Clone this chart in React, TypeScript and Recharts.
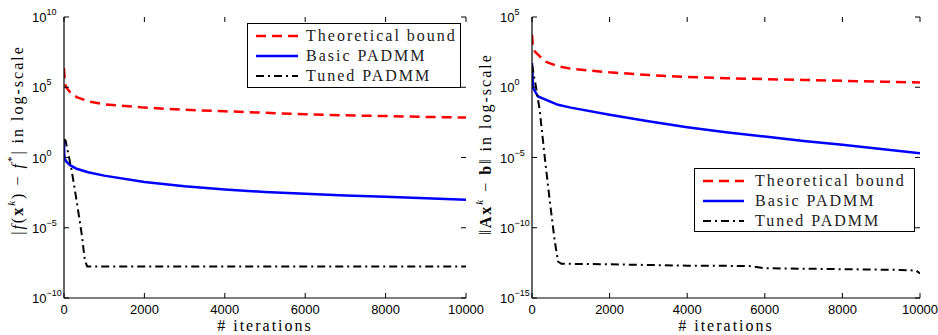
import React from "react";
import { LineChart, Line, XAxis, YAxis, Legend } from "recharts";

const iterTicks = [0, 2000, 4000, 6000, 8000, 10000];

// left panel: |f(x^k) - f*|, values stored as log10
const fBoundK = [0, 20, 50, 150, 315, 600, 1000, 2000, 3000, 4000, 5000, 6000, 7000, 8000, 9000, 10000];
const fBoundExp = [6.35, 5.4, 5.0, 4.66, 4.3, 4.0, 3.79, 3.55, 3.4, 3.29, 3.18, 3.08, 3.0, 2.95, 2.89, 2.84];
const fBasicK = [0, 5, 20, 60, 150, 315, 600, 1000, 2000, 3000, 4000, 5000, 6000, 7000, 8000, 9000, 10000];
const fBasicExp = [1.2, 0.3, -0.1, -0.3, -0.55, -0.8, -1.05, -1.29, -1.75, -2.05, -2.28, -2.45, -2.58, -2.7, -2.8, -2.9, -3.0];
const fTunedK = [0, 40, 190, 315, 440, 520, 580, 10000];
const fTunedExp = [1.3, 1.2, -0.9, -3.1, -5.45, -7.35, -7.76, -7.76];

// right panel: ||Ax^k - b||
const rBoundK = [0, 20, 70, 330, 670, 1000, 2000, 3000, 4000, 5000, 6000, 7000, 8000, 9000, 10000];
const rBoundExp = [3.75, 3.0, 2.56, 1.84, 1.49, 1.32, 1.06, 0.87, 0.73, 0.64, 0.58, 0.52, 0.46, 0.4, 0.34];
const rBasicK = [0, 30, 155, 670, 1000, 2000, 3000, 4000, 5000, 6000, 7000, 8000, 9000, 10000];
const rBasicExp = [1.73, -0.06, -0.66, -1.25, -1.45, -1.96, -2.42, -2.84, -3.2, -3.51, -3.82, -4.1, -4.4, -4.7];
const rTunedK = [0, 100, 197, 327, 456, 584, 670, 756, 2000, 4000, 5600, 6000, 8000, 9500, 9900, 10000];
const rTunedExp = [1.6, 0.06, -1.6, -4.94, -8.04, -10.9, -12.4, -12.56, -12.6, -12.7, -12.72, -12.88, -12.95, -13.0, -13.05, -13.25];

const seriesNames = ["Theoretical bound", "Basic PADMM", "Tuned PADMM"];

const toPts = (k: number[], e: number[]) => k.map((x, i) => ({ k: x, v: Math.pow(10, e[i]) }));

const styles = [
  { stroke: "#ff0000", width: 2.5, dash: "10 6" },
  { stroke: "#0000ff", width: 2.5, dash: undefined },
  { stroke: "#000000", width: 2, dash: "8 4 2 4" },
];

const serif = "'Liberation Serif', 'DejaVu Serif', serif";
const sans = "'Liberation Sans', Arial, sans-serif";

function Panel({
  width,
  left,
  marginRight,
  yDomain,
  yTicks,
  data,
  legendBox,
  yLabel,
  yLabelY,
}: any) {
  const height = 335;
  const plotL = 64;
  const plotR = width - marginRight;
  const plotT = 17;
  const plotB = 298;

  const xTick = (p: any) => (
    <g>
      <line x1={p.x} x2={p.x} y1={plotB} y2={plotB - 5} stroke="#000" />
      <line x1={p.x} x2={p.x} y1={plotT} y2={plotT + 5} stroke="#000" />
      <text x={p.x} y={plotB + 16} textAnchor="middle" fontFamily={sans} fontSize={13} fill="#000">
        {p.payload.value}
      </text>
    </g>
  );

  const yTick = (p: any) => {
    const e = Math.round(Math.log10(p.payload.value));
    return (
      <g>
        <line x1={plotL} x2={plotL + 5} y1={p.y} y2={p.y} stroke="#000" />
        <line x1={plotR} x2={plotR - 5} y1={p.y} y2={p.y} stroke="#000" />
        <text x={plotL - 32} y={p.y + 5} fontFamily={sans} fontSize={13} fill="#000">
          10
          <tspan dy={-7} fontSize={9}>
            {e < 0 ? "\u2212" + Math.abs(e) : String(e)}
          </tspan>
        </text>
      </g>
    );
  };

  const xLabel = () => (
    <text
      x={(plotL + plotR) / 2}
      y={331}
      textAnchor="middle"
      fontFamily={serif}
      fontSize={16}
      letterSpacing={2}
      fill="#000"
    >
      {"# iterations"}
    </text>
  );

  const yLabelEl = () => (
    <text
      x={17}
      y={yLabelY}
      transform={`rotate(-90 17 ${yLabelY})`}
      textAnchor="middle"
      dominantBaseline="central"
      fontFamily={serif}
      fontSize={16}
      letterSpacing={2}
      fill="#000"
    >
      {yLabel}
    </text>
  );

  const legendContent = () => (
    <div
      style={{
        width: legendBox.w,
        height: legendBox.h,
        border: "1.5px solid #000",
        boxSizing: "border-box",
        background: "#fff",
        paddingTop: 2,
        fontFamily: serif,
        fontSize: 16,
        letterSpacing: 2,
        color: "#222",
      }}
    >
      {seriesNames.map((name, i) => (
        <div key={name} style={{ display: "flex", alignItems: "center", height: 20 }}>
          <svg width={legendBox.textX} height={20} style={{ flex: "none" }}>
            <line
              x1={8}
              x2={legendBox.sampleEnd}
              y1={10}
              y2={10}
              stroke={styles[i].stroke}
              strokeWidth={styles[i].width}
              strokeDasharray={styles[i].dash}
            />
          </svg>
          <span style={{ whiteSpace: "nowrap", lineHeight: "20px" }}>{name}</span>
        </div>
      ))}
    </div>
  );

  return (
    <div style={{ position: "absolute", left, top: 0 }}>
      <LineChart width={width} height={height} margin={{ top: plotT, right: marginRight, bottom: 0, left: 0 }}>
        <XAxis
          dataKey="k"
          type="number"
          domain={[0, 10000]}
          ticks={iterTicks}
          allowDataOverflow
          height={37}
          stroke="#000"
          strokeWidth={1.2}
          tickLine={false}
          tick={xTick}
          interval={0}
          label={xLabel}
        />
        <XAxis
          xAxisId="top"
          orientation="top"
          dataKey="k"
          type="number"
          domain={[0, 10000]}
          height={0}
          tick={false}
          tickLine={false}
          stroke="#000"
          strokeWidth={1.2}
        />
        <YAxis
          type="number"
          scale="log"
          domain={yDomain}
          ticks={yTicks}
          allowDataOverflow
          width={64}
          stroke="#000"
          strokeWidth={1.2}
          tickLine={false}
          tick={yTick}
          interval={0}
          label={yLabelEl}
        />
        <YAxis
          yAxisId="right"
          orientation="right"
          type="number"
          domain={[0, 1]}
          width={0}
          tick={false}
          tickLine={false}
          stroke="#000"
          strokeWidth={1.2}
        />
        {data.map((d: any, i: number) => (
          <Line
            key={seriesNames[i]}
            data={d}
            dataKey="v"
            name={seriesNames[i]}
            type="linear"
            stroke={styles[i].stroke}
            strokeWidth={styles[i].width}
            strokeDasharray={styles[i].dash}
            dot={false}
            activeDot={false}
            isAnimationActive={false}
          />
        ))}
        <Legend
          layout="vertical"
          align="center"
          verticalAlign="middle"
          content={legendContent}
          wrapperStyle={{ left: legendBox.x, top: legendBox.y, width: legendBox.w, height: legendBox.h }}
        />
      </LineChart>
    </div>
  );
}

export default function App() {
  const leftLabel = (
    <>
      {"|"}
      <tspan fontStyle="italic">f</tspan>
      {"("}
      <tspan fontWeight="bold">x</tspan>
      <tspan dy={-6} fontSize={11} fontStyle="italic">k</tspan>
      <tspan dy={6}>{") \u2212 "}</tspan>
      <tspan fontStyle="italic">f</tspan>
      <tspan dy={-6} fontSize={11}>*</tspan>
      <tspan dy={6}>{"| in log-scale"}</tspan>
    </>
  );
  const rightLabel = (
    <>
      {"\u2016"}
      <tspan fontWeight="bold">Ax</tspan>
      <tspan dy={-6} fontSize={11} fontStyle="italic">k</tspan>
      <tspan dy={6}>{" \u2212 "}</tspan>
      <tspan fontWeight="bold">b</tspan>
      {"\u2016 in log-scale"}
    </>
  );

  return (
    <div style={{ position: "absolute", left: 0, top: 0, width: 938, height: 335, background: "#fff" }}>
      <Panel
        width={490}
        left={0}
        marginRight={24}
        yDomain={[1e-10, 1e10]}
        yTicks={[1e-10, 1e-5, 1, 1e5, 1e10]}
        data={[toPts(fBoundK, fBoundExp), toPts(fBasicK, fBasicExp), toPts(fTunedK, fTunedExp)]}
        legendBox={{ x: 247, y: 23, w: 214, h: 65, sampleEnd: 50, textX: 58 }}
        yLabel={leftLabel}
        yLabelY={140}
      />
      <Panel
        width={470}
        left={468}
        marginRight={18}
        yDomain={[1e-15, 1e5]}
        yTicks={[1e-15, 1e-10, 1e-5, 1, 1e5]}
        data={[toPts(rBoundK, rBoundExp), toPts(rBasicK, rBasicExp), toPts(rTunedK, rTunedExp)]}
        legendBox={{ x: 226, y: 168, w: 221, h: 64, sampleEnd: 49, textX: 60 }}
        yLabel={rightLabel}
        yLabelY={144}
      />
    </div>
  );
}
